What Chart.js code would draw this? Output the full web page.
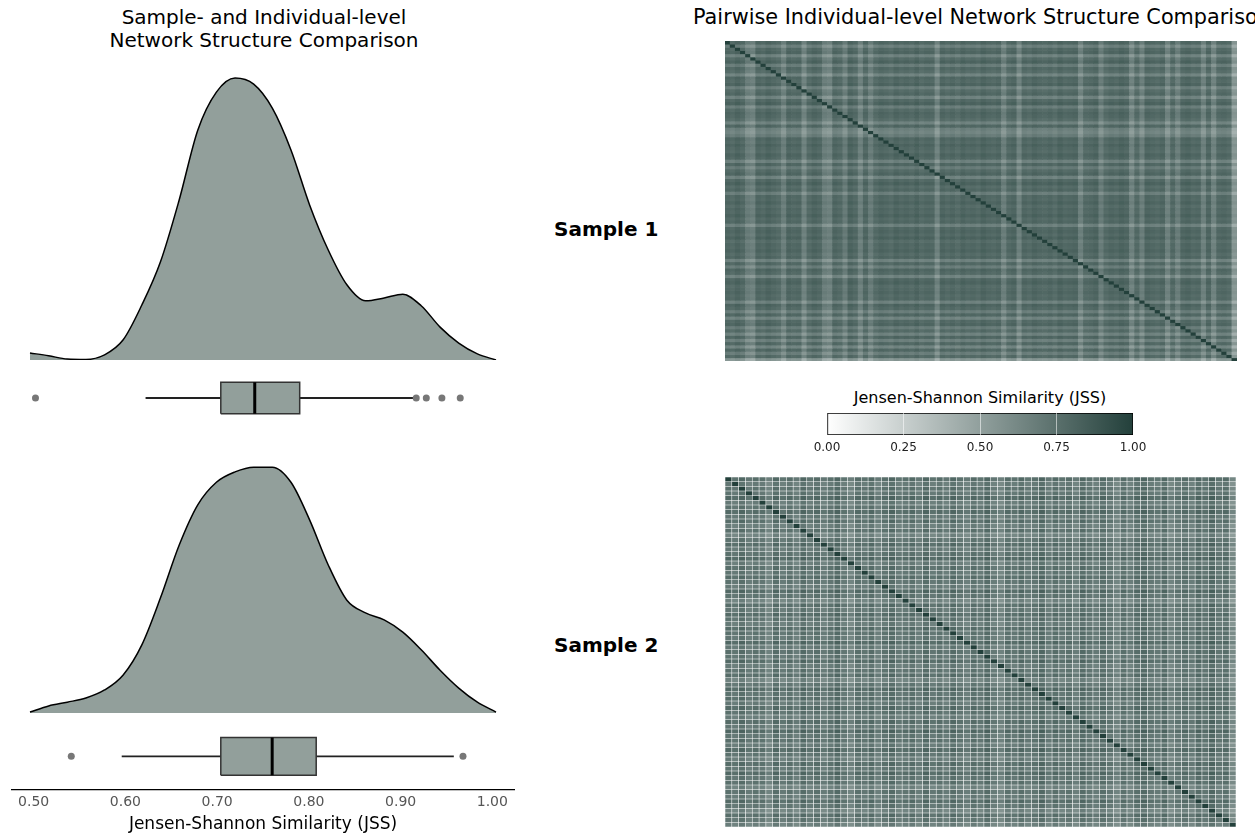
<!DOCTYPE html>
<html><head><meta charset="utf-8">
<script src="https://cdn.jsdelivr.net/npm/chart.js@4.4.0/dist/chart.umd.min.js"></script>
<style>
html,body{margin:0;padding:0;background:#fff;width:1255px;height:833px;overflow:hidden;position:relative;font-family:'DejaVu Sans',sans-serif;}
canvas{position:absolute;}
.t{position:absolute;white-space:nowrap;color:#000;}
</style></head><body>
<div class="t" style="left:0;width:528px;top:6px;font-size:20px;line-height:23px;text-align:center;">Sample- and Individual-level<br>Network Structure Comparison</div>
<div class="t" style="left:693px;top:6px;font-size:20.8px;line-height:23px;">Pairwise Individual-level Network Structure Comparison</div>
<div class="t" style="left:554px;top:217px;font-size:20px;line-height:24px;font-weight:bold;">Sample 1</div>
<div class="t" style="left:554px;top:633px;font-size:20px;line-height:24px;font-weight:bold;">Sample 2</div>
<div class="t" style="left:780px;width:400px;text-align:center;top:388px;font-size:16px;line-height:19px;">Jensen-Shannon Similarity (JSS)</div>
<canvas id="dens1" width="510" height="300" style="left:8px;top:60px"></canvas>
<canvas id="box1" width="510" height="56" style="left:8px;top:370px"></canvas>
<canvas id="dens2" width="510" height="300" style="left:8px;top:413px"></canvas>
<canvas id="box2" width="510" height="107" style="left:8px;top:731px"></canvas>
<canvas id="hm1" width="512" height="320" style="left:725px;top:41px"></canvas>
<canvas id="hm2" width="511" height="350" style="left:725px;top:477px"></canvas>
<canvas id="cbar" width="366" height="52" style="left:797px;top:405px"></canvas>
<script>
// ---------- data ----------
const jssGrid = [0.50,0.52,0.54,0.56,0.58,0.60,0.62,0.64,0.66,0.68,0.70,0.72,0.74,0.76,0.78,0.80,0.82,0.84,0.86,0.88,0.90,0.92,0.94,0.96,0.98,1.00];
const density1 = [0.15,0.09,0.02,0.01,0.11,0.43,1.17,2.09,3.40,4.89,5.70,6.00,5.87,5.36,4.47,3.30,2.34,1.60,1.26,1.32,1.40,1.15,0.70,0.36,0.13,0.00];
const density2 = [0.02,0.15,0.23,0.32,0.49,0.81,1.45,2.45,3.57,4.43,4.91,5.13,5.23,5.23,4.91,4.11,3.15,2.40,2.13,1.98,1.72,1.34,0.91,0.53,0.23,0.02];
// box stats: [lower whisker, Q1, median, Q3, upper whisker]
const box1Stats = [0.622,0.704,0.741,0.790,0.915];
const box1Outliers = [0.502,0.917,0.928,0.945,0.965];
const box2Stats = [0.596,0.704,0.760,0.808,0.958];
const box2Outliers = [0.541,0.968];
const jssTicks = [0.50,0.60,0.70,0.80,0.90,1.00];
const cbarTicks = [0.00,0.25,0.50,0.75,1.00];
// heatmap row / column similarity profiles
const rows1 = [
0.80,0.56,0.78,0.82,0.52,0.76,0.84,0.58,0.79,0.74,
0.50,0.81,0.77,0.83,0.56,0.75,0.80,0.52,0.78,0.85,
0.57,0.76,0.82,0.79,0.73,0.51,0.80,0.54,0.49,0.58,
0.81,0.77,0.84,0.78,0.75,0.83,0.79,0.53,0.80,0.59,
0.76,0.82,0.52,0.78,0.85,0.74,0.80,0.56,0.79,0.77,
0.83,0.75,0.81,0.78,0.84,0.76,0.80,0.54,0.79,0.82,
0.77,0.85,0.74,0.80,0.78,0.83,0.76,0.81,0.52,0.79,
0.57,0.82,0.77,0.51,0.80,0.84,0.75,0.78,0.81,0.76,
0.79,0.53,0.83,0.77,0.56,0.80,0.50,0.78,0.82,0.58,
0.76,0.52,0.81,0.54,0.79,0.49,0.80,0.57,0.77,0.30];
const cols1 = [
0.80,0.76,0.83,0.78,0.58,0.54,0.81,0.77,0.84,0.79,
0.75,0.56,0.82,0.78,0.80,0.52,0.76,0.83,0.79,0.57,
0.53,0.81,0.77,0.59,0.84,0.78,0.54,0.80,0.58,0.76,
0.82,0.79,0.75,0.83,0.78,0.81,0.77,0.84,0.76,0.80,
0.79,0.52,0.82,0.77,0.81,0.75,0.83,0.78,0.80,0.76,
0.84,0.79,0.77,0.81,0.56,0.78,0.82,0.53,0.80,0.76,
0.83,0.79,0.77,0.81,0.75,0.84,0.78,0.80,0.82,0.54,
0.77,0.79,0.83,0.58,0.76,0.81,0.78,0.84,0.80,0.52,
0.77,0.56,0.82,0.79,0.76,0.81,0.53,0.78,0.57,0.80,
0.83,0.77,0.79,0.54,0.81,0.52,0.78,0.80,0.76,0.32];
const rows2 = [
0.78,0.66,0.74,0.70,0.82,0.64,0.72,0.80,0.68,0.76,
0.62,0.74,0.55,0.70,0.79,0.66,0.73,0.83,0.63,0.75,
0.69,0.77,0.71,0.64,0.81,0.72,0.56,0.76,0.67,0.79,
0.71,0.63,0.78,0.73,0.68,0.82,0.66,0.75,0.70,0.80,
0.64,0.72,0.77,0.55,0.69,0.81,0.71,0.76,0.66,0.79,
0.73,0.62,0.78,0.68,0.83,0.70,0.75,0.65,0.80,0.72,
0.63,0.77,0.69,0.81,0.71,0.74,0.57,0.73,0.66,0.79,
0.70,0.56,0.76,0.68,0.60];
const cols2 = [
0.76,0.70,0.80,0.66,0.74,0.72,0.56,0.79,0.67,0.75,
0.63,0.81,0.69,0.77,0.65,0.72,0.83,0.68,0.57,0.76,
0.70,0.79,0.62,0.74,0.82,0.67,0.72,0.78,0.64,0.81,
0.69,0.75,0.66,0.80,0.71,0.63,0.77,0.68,0.82,0.65,
0.56,0.76,0.70,0.79,0.67,0.73,0.84,0.65,0.78,0.70,
0.75,0.62,0.81,0.72,0.66,0.79,0.70,0.57,0.76,0.64,
0.78,0.83,0.71,0.67,0.80,0.58,0.69,0.76,0.65,0.81,
0.72,0.86,0.70,0.77,0.48];
const diagValue = 1.0;

// ---------- style ----------
Chart.defaults.font.family = "'DejaVu Sans', sans-serif";
Chart.defaults.animation = false;
Chart.defaults.events = [];
Chart.defaults.plugins.legend.display = false;
Chart.defaults.plugins.tooltip.enabled = false;
const fillColor = '#929f9b';
const cLow = [255,255,255], cHigh = [35,64,59];
function cmap(v){
  v = Math.max(0, Math.min(1, v));
  const c = cLow.map((l,k)=>Math.round(l + (cHigh[k]-l)*v));
  return `rgb(${c[0]},${c[1]},${c[2]})`;
}
const xMin = 0.4764, xMax = 1.0236;

function densityChart(id, dens, yMax){
  new Chart(document.getElementById(id), {
    type: 'scatter',
    data: { datasets: [{
      data: jssGrid.map((x,i)=>({x, y: dens[i]})),
      showLine: true, pointRadius: 0, fill: 'origin',
      backgroundColor: fillColor, borderColor: '#000', borderWidth: 1.5,
      cubicInterpolationMode: 'monotone', clip: false
    }]},
    options: {
      responsive: false, layout: {padding: 0},
      scales: {
        x: {type:'linear', min:xMin, max:xMax, display:false},
        y: {min:0, max:yMax, display:false}
      }
    }
  });
}
densityChart('dens1', density1, 300/47);
densityChart('dens2', density2, 300/47);

function boxDatasets(stats, outliers, h){
  const [lo,q1,med,q3,hi] = stats;
  const line = (pts, color, w, order) => ({data: pts, showLine:true, pointRadius:0, borderColor:color, borderWidth:w, fill:false, order, clip:false});
  return [
    {data:[{x:q1,y:h},{x:q3,y:h}], showLine:true, pointRadius:0, borderWidth:0, fill:{value:-h}, backgroundColor:fillColor, order:10, clip:false},
    line([{x:q1,y:-h},{x:q3,y:-h},{x:q3,y:h},{x:q1,y:h},{x:q1,y:-h}], '#333', 1.5, 5),
    line([{x:lo,y:0},{x:q1,y:0}], '#222', 1.8, 6),
    line([{x:q3,y:0},{x:hi,y:0}], '#222', 1.8, 6),
    line([{x:med,y:-h},{x:med,y:h}], '#000', 3, 1),
    {data: outliers.map(v=>({x:v,y:0})), showLine:false, pointRadius:3.5, pointBackgroundColor:'#777', pointBorderWidth:0, order:2, clip:false}
  ];
}

new Chart(document.getElementById('box1'), {
  type:'scatter',
  data:{datasets: boxDatasets(box1Stats, box1Outliers, 0.655)},
  options:{responsive:false, layout:{padding:0},
    scales:{x:{type:'linear', min:xMin, max:xMax, display:false}, y:{min:-1, max:1, display:false}}}
});

new Chart(document.getElementById('box2'), {
  type:'scatter',
  data:{datasets: boxDatasets(box2Stats, box2Outliers, 0.88)},
  options:{responsive:false, layout:{padding:0},
    scales:{
      x:{type:'linear', min:xMin, max:xMax,
        afterBuildTicks: ax => { ax.ticks = jssTicks.map(v=>({value:v})); },
        grid:{display:false, drawTicks:false},
        border:{display:true, color:'#000', width:1.2},
        ticks:{color:'#555', font:{size:14}, padding:4, callback: v => Number(v).toFixed(2), maxRotation:0},
        title:{display:true, text:'Jensen-Shannon Similarity (JSS)', color:'#000', font:{size:17}, padding:{top:0,bottom:3}}
      },
      y:{min:-1.565, max:1, display:false}
    }}
});

function heatmap(id, rows, cols, border){
  const datasets = rows.map((r,i)=>({
    data: cols.map(()=>1),
    backgroundColor: cols.map((c,j)=>cmap(i===j ? diagValue : (r+c)/2)),
    borderWidth: border, borderColor: 'rgba(255,255,255,0.11)', borderSkipped: false,
    barPercentage: 1, categoryPercentage: 1
  }));
  new Chart(document.getElementById(id), {
    type:'bar',
    data:{labels: cols.map((_,j)=>j), datasets},
    options:{responsive:false, layout:{padding:0},
      scales:{
        x:{stacked:true, display:false},
        y:{stacked:true, reverse:true, min:0, max:rows.length, display:false}
      }}
  });
}
heatmap('hm1', rows1, cols1, 0);
heatmap('hm2', rows2, cols2, 0.6);

new Chart(document.getElementById('cbar'), {
  type:'bar',
  data:{labels:['JSS'], datasets:[{
    data:[[0,1]],
    backgroundColor: ctx => {
      const a = ctx.chart.chartArea;
      if (!a) return cmap(0.5);
      const g = ctx.chart.ctx.createLinearGradient(a.left,0,a.right,0);
      g.addColorStop(0, cmap(0)); g.addColorStop(1, cmap(1));
      return g;
    },
    borderColor:'#000', borderWidth:1, borderSkipped:false,
    barPercentage:1, categoryPercentage:1
  }]},
  options:{responsive:false, indexAxis:'y', layout:{padding:{left:30,right:30,top:8,bottom:0}},
    scales:{
      x:{type:'linear', min:0, max:1,
        afterBuildTicks: ax => { ax.ticks = cbarTicks.map(v=>({value:v})); },
        grid:{display:true, drawTicks:false, drawOnChartArea:true, color: c => (c.tick && c.tick.value>0 && c.tick.value<1) ? 'rgba(255,255,255,0.55)' : 'rgba(0,0,0,0)', z:1},
        border:{display:false},
        ticks:{color:'#222', font:{size:12}, padding:6, callback: v => Number(v).toFixed(2), maxRotation:0}
      },
      y:{display:false}
    }}
});
</script>
</body></html>
